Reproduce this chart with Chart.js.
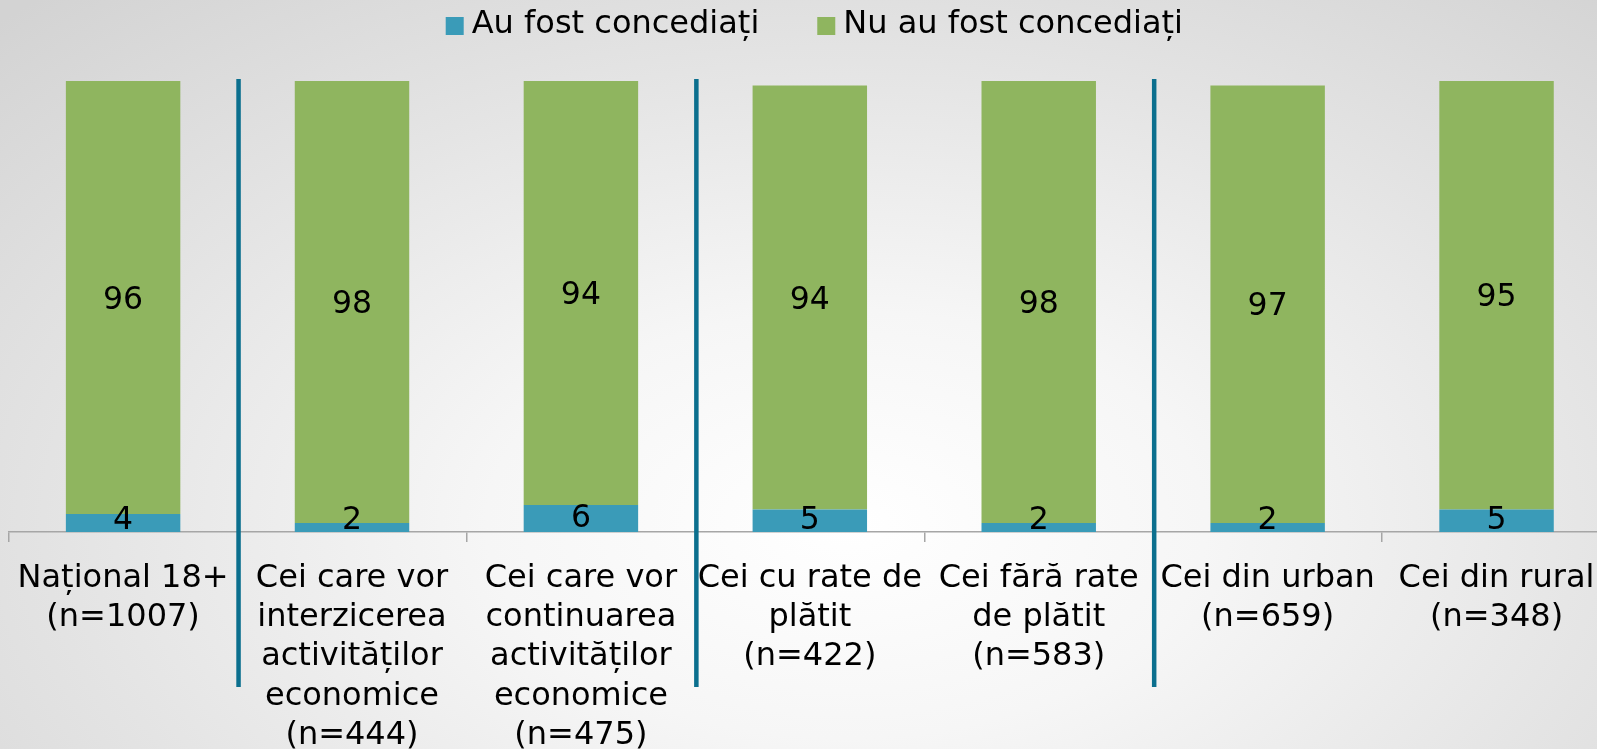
<!DOCTYPE html>
<html>
<head>
<meta charset="utf-8">
<script src="https://cdn.jsdelivr.net/npm/chart.js@4/dist/chart.umd.min.js"></script>
<style>
  html, body { margin: 0; padding: 0; width: 1597px; height: 749px; overflow: hidden; }
  body { background: radial-gradient(ellipse 75% 95% at 53% 70%, #ffffff 0%, #f6f6f6 30%, #e4e4e4 65%, #d3d3d3 100%); }
  #wrap { position: absolute; left: 0; top: 0; width: 1620px; height: 772px; }
</style>
</head>
<body>
<div id="wrap"><canvas id="c"></canvas></div>
<script>
const categories = [
  ["Național 18+", "(n=1007)"],
  ["Cei care vor", "interzicerea", "activităților", "economice", "(n=444)"],
  ["Cei care vor", "continuarea", "activităților", "economice", "(n=475)"],
  ["Cei cu rate de", "plătit", "(n=422)"],
  ["Cei fără rate", "de plătit", "(n=583)"],
  ["Cei din urban", "(n=659)"],
  ["Cei din rural", "(n=348)"]
];
const seriesNames = ["Au fost concediați", "Nu au fost concediați"];
const concediati = [4, 2, 6, 5, 2, 2, 5];
const neconcediati = [96, 98, 94, 94, 98, 97, 95];
const separatorsAfter = [0, 2, 4];
const colors = ["#3a9bb8", "#8fb55f"];

Chart.defaults.font.family = "'DejaVu Sans', Verdana, sans-serif";
Chart.defaults.color = "#000";

const dataLabels = {
  id: "dataLabels",
  afterDatasetsDraw(chart) {
    const ctx = chart.ctx;
    ctx.save();
    ctx.font = "31.5px 'DejaVu Sans'";
    ctx.fillStyle = "#000";
    ctx.textAlign = "center";
    ctx.textBaseline = "middle";
    chart.data.datasets.forEach((ds, di) => {
      const meta = chart.getDatasetMeta(di);
      meta.data.forEach((el, i) => {
        const p = el.getProps(["x", "y", "base"], true);
        let y = (p.y + p.base) / 2;
        if (di === 0) y = Math.min(y, p.base - 11);
        else y += 3;
        ctx.fillText(String(ds.data[i]), p.x, y);
      });
    });
    ctx.restore();
  }
};

const separators = {
  id: "separators",
  afterDraw(chart) {
    const xs = chart.scales.x;
    const ctx = chart.ctx;
    ctx.save();
    ctx.strokeStyle = "#0b6f8e";
    ctx.lineWidth = 4.5;
    separatorsAfter.forEach(i => {
      const x = (xs.getPixelForValue(i) + xs.getPixelForValue(i + 1)) / 2 + 1;
      ctx.beginPath();
      ctx.moveTo(x, 79);
      ctx.lineTo(x, 687);
      ctx.stroke();
    });
    ctx.restore();
  }
};

const customLegend = {
  id: "customLegend",
  afterDraw(chart) {
    const ctx = chart.ctx;
    ctx.save();
    ctx.font = "32px 'DejaVu Sans'";
    ctx.textBaseline = "middle";
    ctx.textAlign = "left";
    const box = 18, gap = 8, spacing = 58;
    const items = chart.data.datasets.map(d => ({ label: d.label, color: d.backgroundColor, w: ctx.measureText(d.label).width }));
    let total = 0;
    items.forEach((it, i) => { total += box + gap + it.w + (i < items.length - 1 ? spacing : 0); });
    const ca = chart.chartArea;
    let x = (ca.left + ca.right) / 2 + 4.5 - total / 2;
    const y = 25;
    items.forEach(it => {
      ctx.fillStyle = it.color;
      ctx.fillRect(x, y - box / 2 + 1, box, box);
      x += box + gap;
      ctx.fillStyle = "#000";
      ctx.fillText(it.label, x, y);
      x += it.w + spacing;
    });
    ctx.restore();
  }
};

new Chart(document.getElementById("c"), {
  type: "bar",
  data: {
    labels: categories,
    datasets: [
      { label: seriesNames[0], data: concediati, backgroundColor: colors[0] },
      { label: seriesNames[1], data: neconcediati, backgroundColor: colors[1] }
    ]
  },
  options: {
    responsive: true,
    maintainAspectRatio: false,
    animation: false,
    barPercentage: 0.5,
    categoryPercentage: 1,
    layout: { padding: { top: 81, left: 8, right: 9, bottom: 0 } },
    plugins: { legend: { display: false }, tooltip: { enabled: false } },
    scales: {
      x: {
        stacked: true,
        grid: { offset: true, drawOnChartArea: false, drawTicks: true, tickLength: 10, color: "#a6a6a6", lineWidth: 1.5 },
        border: { display: true, color: "#a6a6a6", width: 1.5 },
        ticks: { font: { size: 32, lineHeight: 1.225 }, color: "#000", padding: 17, maxRotation: 0, minRotation: 0, autoSkip: false }
      },
      y: {
        stacked: true,
        display: false,
        min: 0,
        max: 100
      }
    }
  },
  plugins: [dataLabels, separators, customLegend]
});
</script>
</body>
</html>
